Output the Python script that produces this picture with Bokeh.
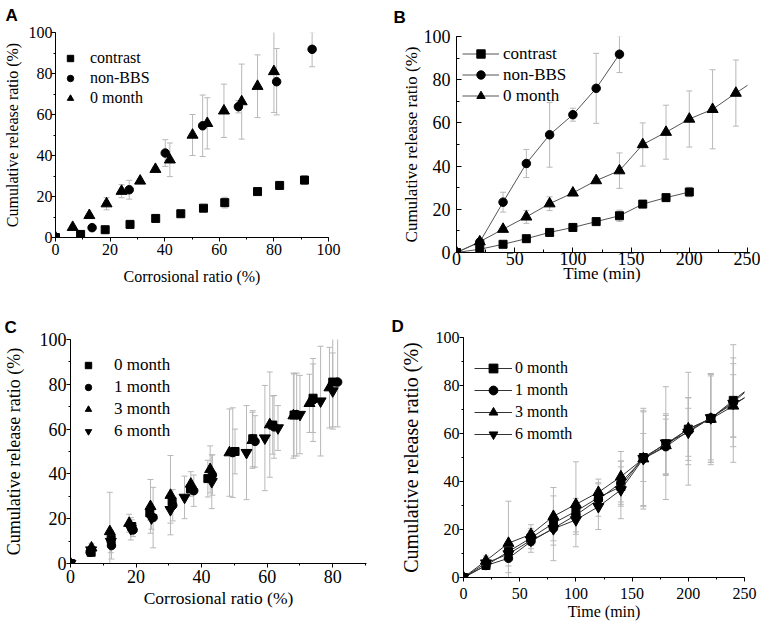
from bokeh.plotting import figure
from bokeh.models import Range1d, SingleIntervalTicker, Legend, LegendItem, ColumnDataSource, Title
from bokeh.layouts import column, row
from bokeh.embed import file_html
from bokeh.resources import INLINE

SERIF = "Liberation Serif"
SANS = "Liberation Sans"
ERR = "#b8b8b8"

# ---------------- data: panels A and B ----------------
contrast_t = [0, 20, 40, 60, 80, 100, 120, 140, 160, 180, 200]
contrast_cr = [0, 9.2, 18.2, 27.3, 36.7, 45.9, 54.2, 62.0, 74.0, 82.1, 91.2]
contrast_y = [0, 1.5, 3.8, 6.4, 9.3, 11.6, 14.3, 17.0, 22.4, 25.4, 28.0]
contrast_err = [0, 0.4, 0.5, 0.6, 0.7, 0.8, 1.0, 2.6, 1.0, 1.0, 2.2]

nonbbs_t = [0, 20, 40, 60, 80, 100, 120, 140]
nonbbs_cr = [0, 13.4, 27.0, 40.2, 53.9, 67.0, 81.0, 94.0]
nonbbs_y = [0, 4.8, 23.3, 41.2, 54.5, 63.8, 76.0, 91.8]
nonbbs_err = [0, 0.8, 4.6, 6.5, 15.0, 3.0, 16.2, 8.5]

# ---------------- data: panels C and D (storage months) ----------------
time_min = [0, 20, 40, 60, 80, 100, 120, 140, 160, 180, 200, 220, 240, 260]

month0_cr = [0, 6.3, 12.4, 18.7, 24.2, 31.0, 36.6, 41.9, 50.2, 55.6, 61.7, 68.2, 74.0, 80.0]
month0_y = [0, 5.0, 10.8, 16.5, 22.6, 27.6, 33.3, 37.9, 50.0, 55.7, 61.8, 66.3, 73.8, 81.0]
month0_err = [0, 0.6, 0.8, 3.0, 3.2, 1.0, 1.0, 8.2, 10.0, 12.5, 13.0, 18.3, 15.3, 20.0]

month1_cr = [0, 6.0, 12.5, 19.1, 25.2, 31.2, 37.6, 43.3, 49.5, 56.3, 62.1, 69.0, 74.0, 81.5]
month1_y = [0, 5.0, 8.0, 15.0, 20.5, 26.0, 32.5, 39.5, 49.5, 54.5, 61.0, 66.5, 73.0, 81.0]
month1_err = [0, 1.5, 6.0, 3.0, 13.5, 7.0, 7.0, 9.0, 20.0, 11.5, 14.0, 18.5, 18.5, 20.0]

month3_cr = [0, 6.4, 12.0, 17.9, 24.4, 30.5, 36.7, 42.6, 48.5, 55.5, 60.8, 68.0, 72.9, 79.0]
month3_y = [0, 7.0, 14.3, 18.0, 25.5, 30.5, 35.5, 42.0, 49.5, 55.0, 62.0, 66.0, 71.5, 78.5]
month3_err = [0, 2.0, 17.5, 4.0, 12.0, 17.7, 5.5, 10.5, 19.5, 12.5, 23.5, 19.0, 13.0, 18.0]

month6_cr = [0, 6.3, 12.3, 18.4, 24.7, 30.5, 34.8, 43.1, 53.7, 59.3, 63.3, 70.0, 76.3, 80.0]
month6_y = [0, 6.0, 9.8, 15.5, 20.3, 24.0, 29.5, 36.5, 49.5, 56.0, 60.5, 66.5, 72.5, 77.0]
month6_err = [0, 2.0, 5.0, 5.0, 5.0, 6.0, 9.5, 12.0, 21.0, 23.5, 10.0, 17.5, 24.5, 17.0]

labels_ab = ["contrast", "non-BBS", "0 month"]
labels_c = ["0 month", "1 month", "3 month", "6 month"]
labels_d = ["0 month", "1 month", "3 month", "6 momth"]
YLABEL = "Cumulative release ratio (%)"


def make_fig(width, height, bl, br, bt, bb, xr, letter, offset, standoff, valign):
    p = figure(width=width, height=height, x_range=Range1d(*xr), y_range=Range1d(0, 100),
               output_backend="svg", toolbar_location=None,
               min_border_left=bl, min_border_right=br, min_border_top=bt, min_border_bottom=bb)
    p.outline_line_color = None
    p.grid.visible = False
    p.title = Title(text=letter, align="left", offset=offset, standoff=standoff,
                    vertical_align=valign,
                    text_font=SANS, text_font_style="bold", text_font_size="17px",
                    text_color="black")
    return p


def style_axes(p, xint, yint, tick_fs, xt_fs, yt_fs, inward, xlabel,
               x_std, y_std, xl_std, yl_std):
    p.xaxis.ticker = SingleIntervalTicker(interval=xint, num_minor_ticks=2)
    p.yaxis.ticker = SingleIntervalTicker(interval=yint, num_minor_ticks=2)
    p.xaxis.axis_label = xlabel
    p.yaxis.axis_label = YLABEL
    for ax in (p.xaxis[0], p.yaxis[0]):
        ax.axis_line_color = "black"
        ax.axis_line_width = 1
        ax.major_tick_line_color = "black"
        ax.minor_tick_line_color = "black"
        if inward:
            ax.major_tick_in, ax.major_tick_out = 5, 0
            ax.minor_tick_in, ax.minor_tick_out = 3, 0
        else:
            ax.major_tick_in, ax.major_tick_out = 0, 4
            ax.minor_tick_in, ax.minor_tick_out = 0, 2
        ax.major_label_text_font = SERIF
        ax.major_label_text_font_size = tick_fs
        ax.major_label_text_color = "black"
        ax.axis_label_text_font = SERIF
        ax.axis_label_text_font_style = "normal"
        ax.axis_label_text_color = "black"
    p.xaxis.axis_label_text_font_size = xt_fs
    p.yaxis.axis_label_text_font_size = yt_fs
    p.xaxis.major_label_standoff = x_std
    p.yaxis.major_label_standoff = y_std
    p.xaxis.axis_label_standoff = xl_std
    p.yaxis.axis_label_standoff = yl_std


def errbars(p, xs, ys, es):
    bx, lo, hi = [], [], []
    for x, y, e in zip(xs, ys, es):
        if e > 0:
            bx.append(x)
            lo.append(y - e)
            hi.append(y + e)
    src = ColumnDataSource(dict(x=bx, lo=lo, hi=hi))
    p.segment(x0="x", y0="lo", x1="x", y1="hi", source=src, line_color=ERR, line_width=1)
    p.scatter(x="x", y="lo", source=src, marker="dash", size=6, line_color=ERR, line_width=1)
    p.scatter(x="x", y="hi", source=src, marker="dash", size=6, line_color=ERR, line_width=1)


MARK = {"square": 8, "circle": 8.5, "triangle": 11, "inverted_triangle": 11}


def points(p, xs, ys, marker):
    return p.scatter(xs, ys, marker=marker, size=MARK[marker], fill_color="black",
                     line_color="black")


def legend(p, items, loc, gw, gh, standoff, fs):
    lg = Legend(items=items, location=loc, glyph_width=gw, glyph_height=gh,
                label_height=gh, label_standoff=standoff, spacing=0, padding=0, margin=0,
                border_line_color=None, background_fill_alpha=0,
                label_text_font=SERIF, label_text_font_size=fs, label_text_color="black")
    p.add_layout(lg)


H1, H2 = 305, 321

# ---------------- Panel A ---------------- frame 31..237
pA = make_fig(380, H1, 52, 52, 31, 68, (0, 100), "A", -50, 11, "top")
style_axes(pA, 20, 20, "16px", "16px", "16px", False, "Corrosional ratio (%)", 2, -1, 10, 5)
errbars(pA, contrast_cr, contrast_y, contrast_err)
errbars(pA, nonbbs_cr, nonbbs_y, nonbbs_err)
errbars(pA, month0_cr, month0_y, month0_err)
a1 = points(pA, contrast_cr, contrast_y, "square")
a2 = points(pA, nonbbs_cr, nonbbs_y, "circle")
a3 = points(pA, month0_cr, month0_y, "triangle")
legend(pA, [LegendItem(label=labels_ab[0], renderers=[a1]),
            LegendItem(label=labels_ab[1], renderers=[a2]),
            LegendItem(label=labels_ab[2], renderers=[a3])],
       (7, 129), 16, 20, 12, "16px")

# ---------------- Panel B ---------------- frame 35..252
pB = make_fig(380, H1, 76, 13, 35, 53, (0, 250), "B", -63, 15, "top")
style_axes(pB, 50, 20, "18px", "17px", "17px", True, "Time (min)", -1, 6, -4, 0)
errbars(pB, contrast_t, contrast_y, contrast_err)
errbars(pB, nonbbs_t, nonbbs_y, nonbbs_err)
errbars(pB, time_min, month0_y, month0_err)
LC = "#555555"
bl1 = pB.line(contrast_t, contrast_y, line_color=LC, line_width=1)
bl2 = pB.line(nonbbs_t, nonbbs_y, line_color=LC, line_width=1)
bl3 = pB.line(time_min, month0_y, line_color=LC, line_width=1)
b1 = points(pB, contrast_t, contrast_y, "square")
b2 = points(pB, nonbbs_t, nonbbs_y, "circle")
b3 = points(pB, time_min, month0_y, "triangle")
legend(pB, [LegendItem(label=labels_ab[0], renderers=[bl1, b1]),
            LegendItem(label=labels_ab[1], renderers=[bl2, b2]),
            LegendItem(label=labels_ab[2], renderers=[bl3, b3])],
       (6, 146), 37, 21, 4, "17px")

# ---------------- Panel C ---------------- frame 339..563
pC = make_fig(380, H2, 68, 14, 34, 63, (0, 90.3), "C", -66, 5, "bottom")
style_axes(pC, 20, 20, "18px", "17.5px", "18px", False, "Corrosional ratio (%)", 2, 0, 2, 13)
series_c = [(month0_cr, month0_y, month0_err, "square"),
            (month1_cr, month1_y, month1_err, "circle"),
            (month3_cr, month3_y, month3_err, "triangle"),
            (month6_cr, month6_y, month6_err, "inverted_triangle")]
for xs, ys, es, m in series_c:
    errbars(pC, xs, ys, es)
items_c = []
for (xs, ys, es, m), lab in zip(series_c, labels_c):
    r = points(pC, xs, ys, m)
    items_c.append(LegendItem(label=lab, renderers=[r]))
legend(pC, items_c, (10, 121), 16, 22, 18, "17px")

# ---------------- Panel D ---------------- frame 337..577
pD = make_fig(380, H2, 83, 16, 32, 49, (0, 250), "D", -72, 3, "bottom")
style_axes(pD, 50, 20, "16px", "16px", "20px", False, "Time (min)", 6, 0, 1, 11)
series_d = [(month0_y, month0_err, "square"),
            (month1_y, month1_err, "circle"),
            (month3_y, month3_err, "triangle"),
            (month6_y, month6_err, "inverted_triangle")]
for ys, es, m in series_d:
    errbars(pD, time_min, ys, es)
items_d = []
for (ys, es, m), lab in zip(series_d, labels_d):
    ln = pD.line(time_min, ys, line_color="#333333", line_width=1)
    r = points(pD, time_min, ys, m)
    items_d.append(LegendItem(label=lab, renderers=[ln, r]))
legend(pD, items_d, (11, 132), 38, 22, 3, "16px")

# each plot wrapped in its own column so rows do not force-align the plot frames
layout = column(row(column(pA), column(pB)), row(column(pC), column(pD)))
open("out.html", "w").write(file_html(layout, INLINE))
